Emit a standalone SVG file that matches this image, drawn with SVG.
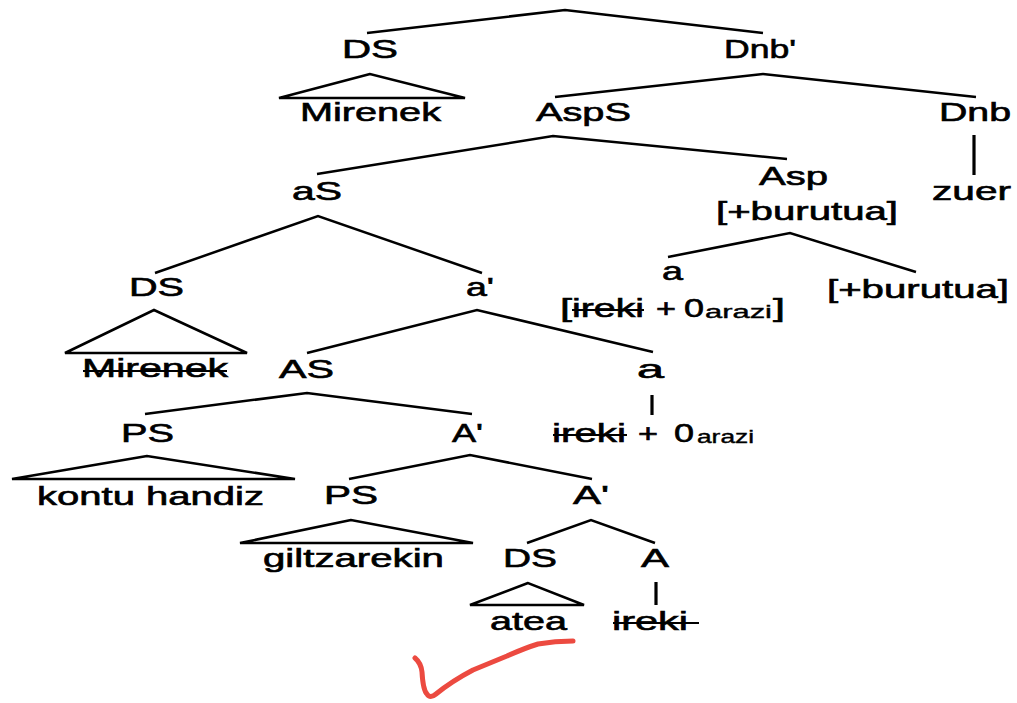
<svg xmlns="http://www.w3.org/2000/svg" width="1017" height="703" viewBox="0 0 1017 703">
<style>
.t{font-family:"Liberation Sans",Arial,sans-serif;font-size:25px;fill:#000;stroke:#000;stroke-width:0.6}
.s{font-family:"Liberation Sans",Arial,sans-serif;font-size:19px;fill:#000;stroke:#000;stroke-width:0.4}
.e{stroke:#000;stroke-width:2.5;fill:none}
.v{stroke-width:3.2}
.st{stroke:#000;stroke-width:2}
</style>
<rect width="1017" height="703" fill="#fff"/>
<g id="connectors" class="e">
<polyline points="367,33 565,10 763,33"/>
<polyline points="555,97 763,74 976,97"/>
<polyline points="317,174 553,136 787,159"/>
<line class="v" x1="974" y1="135" x2="974" y2="175"/>
<polyline points="668,257 790,233 916,272"/>
<polyline points="155,273 318,216 482,273"/>
<polyline points="307,353 477,310 653,352"/>
<line class="v" x1="652" y1="395" x2="652" y2="415"/>
<polyline points="145,414 307,393 472,414"/>
<polyline points="349,479 470,455 592,479"/>
<polyline points="527,543 591,520 655,543"/>
<line class="v" x1="656" y1="582" x2="656" y2="605"/>
<polygon points="370,74 279,98 465,98"/>
<polygon points="154,310 65,353 247,353"/>
<polygon points="147,456 12,479 295,479"/>
<polygon points="351,520 240,543 473,543"/>
<polygon points="528,583 470,605 584,605"/>
</g>
<g id="n-DS1"><text class="t" x="342" y="58" textLength="56" lengthAdjust="spacingAndGlyphs">DS</text></g>
<g id="n-Dnbp"><text class="t" x="724" y="58" textLength="72" lengthAdjust="spacingAndGlyphs">Dnb'</text></g>
<g id="n-Mirenek1"><text class="t" x="300" y="121" textLength="141" lengthAdjust="spacingAndGlyphs">Mirenek</text></g>
<g id="n-AspS"><text class="t" x="536" y="121" textLength="95" lengthAdjust="spacingAndGlyphs">AspS</text></g>
<g id="n-Dnb"><text class="t" x="939" y="121" textLength="72" lengthAdjust="spacingAndGlyphs">Dnb</text></g>
<g id="n-zuer"><text class="t" x="932" y="200" textLength="79" lengthAdjust="spacingAndGlyphs">zuer</text></g>
<g id="n-aS"><text class="t" x="292" y="200" textLength="50" lengthAdjust="spacingAndGlyphs">aS</text></g>
<g id="n-Asp">
<text class="t" x="759" y="185" textLength="69" lengthAdjust="spacingAndGlyphs">Asp</text>
<text class="t" x="716" y="220" textLength="182" lengthAdjust="spacingAndGlyphs">[+burutua]</text>
</g>
<g id="n-a1">
<text class="t" x="662" y="280" textLength="21" lengthAdjust="spacingAndGlyphs">a</text>
<text class="t" x="560" y="317" textLength="12" lengthAdjust="spacingAndGlyphs">[</text>
<text class="t" x="572" y="317" textLength="72" lengthAdjust="spacingAndGlyphs">ireki</text>
<line class="st" x1="572" y1="310" x2="644" y2="310"/>
<text class="t" x="656" y="317" textLength="20" lengthAdjust="spacingAndGlyphs">+</text>
<text class="t" x="684" y="317" textLength="20" lengthAdjust="spacingAndGlyphs">0</text>
<text class="s" x="705" y="318" textLength="67" lengthAdjust="spacingAndGlyphs">arazi</text>
<text class="t" x="773" y="317" textLength="12" lengthAdjust="spacingAndGlyphs">]</text>
</g>
<g id="n-burutua2"><text class="t" x="827" y="298" textLength="182" lengthAdjust="spacingAndGlyphs">[+burutua]</text></g>
<g id="n-DS2"><text class="t" x="129" y="296" textLength="55" lengthAdjust="spacingAndGlyphs">DS</text></g>
<g id="n-ap"><text class="t" x="466" y="296" textLength="28" lengthAdjust="spacingAndGlyphs">a'</text></g>
<g id="n-Mirenek2">
<text class="t" x="82" y="377" textLength="146" lengthAdjust="spacingAndGlyphs">Mirenek</text>
<line class="st" x1="83" y1="371" x2="227" y2="371"/>
</g>
<g id="n-AS"><text class="t" x="279" y="378" textLength="55" lengthAdjust="spacingAndGlyphs">AS</text></g>
<g id="n-a2">
<text class="t" x="637" y="378" textLength="27" lengthAdjust="spacingAndGlyphs">a</text>
<text class="t" x="552" y="442" textLength="74" lengthAdjust="spacingAndGlyphs">ireki</text>
<line class="st" x1="553" y1="435" x2="627" y2="435"/>
<text class="t" x="638" y="442" textLength="20" lengthAdjust="spacingAndGlyphs">+</text>
<text class="t" x="674" y="442" textLength="20" lengthAdjust="spacingAndGlyphs">0</text>
<text class="s" x="697" y="443" textLength="57" lengthAdjust="spacingAndGlyphs">arazi</text>
</g>
<g id="n-PS1"><text class="t" x="121" y="442" textLength="53" lengthAdjust="spacingAndGlyphs">PS</text></g>
<g id="n-Ap1"><text class="t" x="452" y="442" textLength="31" lengthAdjust="spacingAndGlyphs">A'</text></g>
<g id="n-kontu"><text class="t" x="37" y="505" textLength="227" lengthAdjust="spacingAndGlyphs">kontu handiz</text></g>
<g id="n-PS2"><text class="t" x="324" y="504" textLength="54" lengthAdjust="spacingAndGlyphs">PS</text></g>
<g id="n-Ap2"><text class="t" x="573" y="504" textLength="36" lengthAdjust="spacingAndGlyphs">A'</text></g>
<g id="n-giltz"><text class="t" x="263" y="567" textLength="181" lengthAdjust="spacingAndGlyphs">giltzarekin</text></g>
<g id="n-DS3"><text class="t" x="503" y="567" textLength="54" lengthAdjust="spacingAndGlyphs">DS</text></g>
<g id="n-A"><text class="t" x="641" y="567" textLength="28" lengthAdjust="spacingAndGlyphs">A</text></g>
<g id="n-atea"><text class="t" x="490" y="630" textLength="77" lengthAdjust="spacingAndGlyphs">atea</text></g>
<g id="n-ireki">
<text class="t" x="612" y="630" textLength="76" lengthAdjust="spacingAndGlyphs">ireki</text>
<line class="st" x1="613" y1="623" x2="699" y2="623"/>
</g>
<g id="mark"><path d="M415,658 Q421,663 422,672 Q423,690 427,694 Q430,699 436,694 Q452,681 473,670 Q490,663 507,656 Q525,648 538,644 Q555,641 573,641" fill="none" stroke="#ec4a40" stroke-width="5" stroke-linejoin="round" stroke-linecap="round"/></g>
</svg>
